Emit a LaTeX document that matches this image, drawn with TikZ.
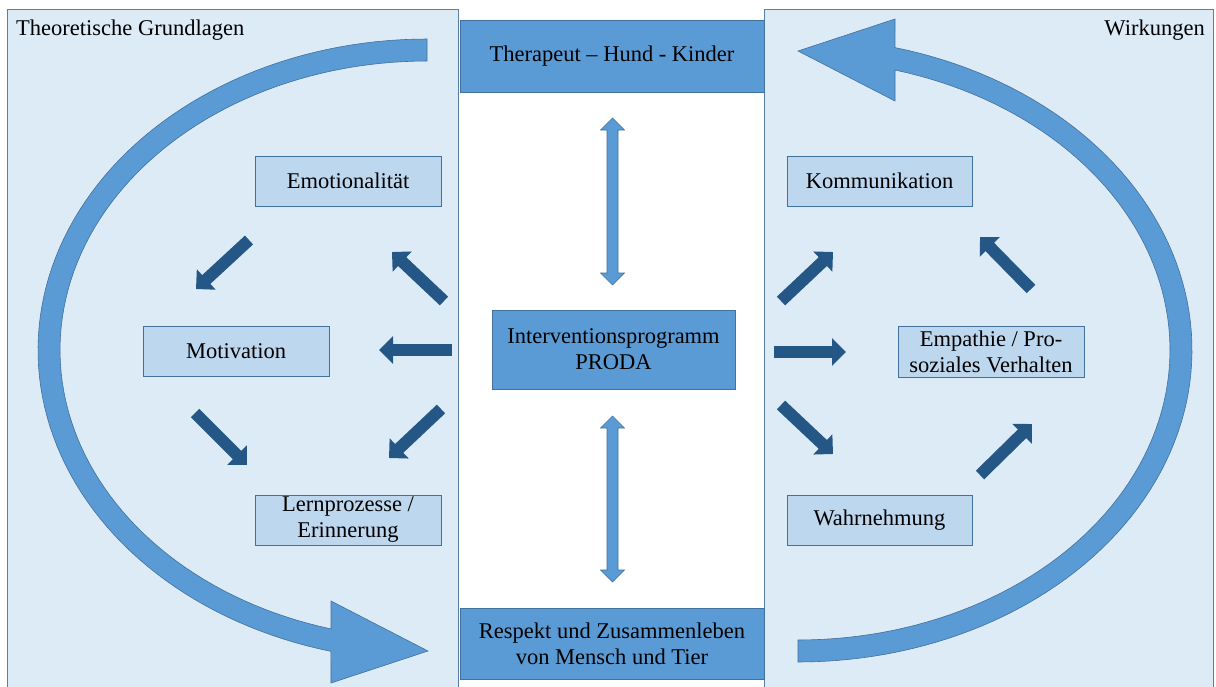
\documentclass[tikz,border=0pt]{standalone}
\usepackage{fontspec}
\setmainfont{Liberation Serif}
\usetikzlibrary{arrows.meta}
\definecolor{panelfill}{HTML}{DDEBF7}
\definecolor{panelline}{HTML}{5A7FA6}
\definecolor{midblue}{HTML}{5B9BD5}
\definecolor{midline}{HTML}{41719C}
\definecolor{lightfill}{HTML}{BDD7EE}
\definecolor{darkarrow}{HTML}{245686}
\newcommand\vdblarrow[3]{%
  \filldraw[dblarrow] (#1-5.5,#2+12) -- (#1-12,#2+12) -- (#1,#2) -- (#1+12,#2+12) -- (#1+5.5,#2+12)
    -- (#1+5.5,#3-12) -- (#1+12,#3-12) -- (#1,#3) -- (#1-12,#3-12) -- (#1-5.5,#3-12) -- cycle;}
\begin{document}
\begin{tikzpicture}[x=1pt,y=-1pt,
  txt/.style={font=\fontsize{22.5}{26}\selectfont, text=black},
  panel/.style={fill=panelfill, draw=panelline, line width=0.8pt},
  bluebox/.style={txt, draw=midline, fill=midblue, line width=0.8pt, inner sep=0pt, align=center},
  lightbox/.style={txt, draw=midline, fill=lightfill, line width=0.8pt, inner sep=0pt, align=center,
    minimum width=186, minimum height=50},
  darr/.style={darkarrow, line width=12pt, -{Triangle[width=27pt,length=14pt]}},
  dblarrow/.style={fill=midblue, draw=midline, line width=0.6pt},
  bigarrow/.style={fill=midblue, draw=midline, line width=0.6pt}]
\useasboundingbox (0,0) rectangle (1216,686);
\fill[white] (0,0) rectangle (1216,686);
% panels
\filldraw[panel] (7,9) rectangle (458,692);
\filldraw[panel] (764,9) rectangle (1213,692);
% big curved arrows
\filldraw[bigarrow] plot[domain=270:104.3, samples=90] ({427+389*cos(\x)},{350+311*sin(\x)})
  -- (331,683) -- (428,651) -- (331,601)
  -- plot[domain=105.16:270, samples=90] ({427+367*cos(\x)},{350+289*sin(\x)}) -- cycle;
\filldraw[bigarrow] plot[domain=90:-75.75, samples=90] ({798+394*cos(\x)},{350+312*sin(\x)})
  -- (895,19) -- (798,51) -- (895,101)
  -- plot[domain=-74.88:90, samples=90] ({798+372*cos(\x)},{350+290*sin(\x)}) -- cycle;
% labels
\node[txt, anchor=base west, inner sep=0pt] (tg) at (16,35) {Theoretische Grundlagen};
\node[txt, anchor=base east, inner sep=0pt] (wk) at (1205,35) {Wirkungen};
% central boxes
\node[bluebox, minimum width=304, minimum height=72] (thk) at (612,56) {Therapeut – Hund - Kinder};
\node[bluebox, minimum width=304, minimum height=71] (resp) at (612,643.5) {Respekt und Zusammenleben\\von Mensch und Tier};
\node[bluebox, minimum width=243, minimum height=79] (proda) at (613.5,349.5) {Interventionsprogramm\\PRODA};
% double arrows
\vdblarrow{612.5}{118}{285}
\vdblarrow{612.5}{416}{582}
% left boxes
\node[lightbox] (emo) at (348,181) {Emotionalität};
\node[lightbox] (mot) at (236,351) {Motivation};
\node[lightbox] (lern) at (348,520) {Lernprozesse /\\Erinnerung};
% right boxes
\node[lightbox, minimum width=185] (komm) at (879.5,181) {Kommunikation};
\node[lightbox, minimum height=51] (emp) at (991,351.5) {Empathie / Pro-\\soziales Verhalten};
\node[lightbox, minimum width=185] (wahr) at (879.5,520) {Wahrnehmung};
% arrow end coordinates
\coordinate (a1s) at (249,240); \coordinate (a1e) at (196,289);
\coordinate (a2s) at (444,301); \coordinate (a2e) at (392,252);
\coordinate (a3s) at (452,350); \coordinate (a3e) at (379,350);
\coordinate (a4s) at (441,409); \coordinate (a4e) at (389,458);
\coordinate (a5s) at (195,413); \coordinate (a5e) at (247,465);
\coordinate (b1s) at (781,301); \coordinate (b1e) at (833,252);
\coordinate (b2s) at (774,352); \coordinate (b2e) at (846,352);
\coordinate (b3s) at (781,405); \coordinate (b3e) at (833,454);
\coordinate (b4s) at (980,475); \coordinate (b4e) at (1032,424);
\coordinate (b5s) at (1031,289); \coordinate (b5e) at (980,237);
\foreach \n in {a1,a2,a3,a4,a5,b1,b2,b3,b4,b5}{\draw[darr] (\n s) -- (\n e);}
\end{tikzpicture}
\end{document}
